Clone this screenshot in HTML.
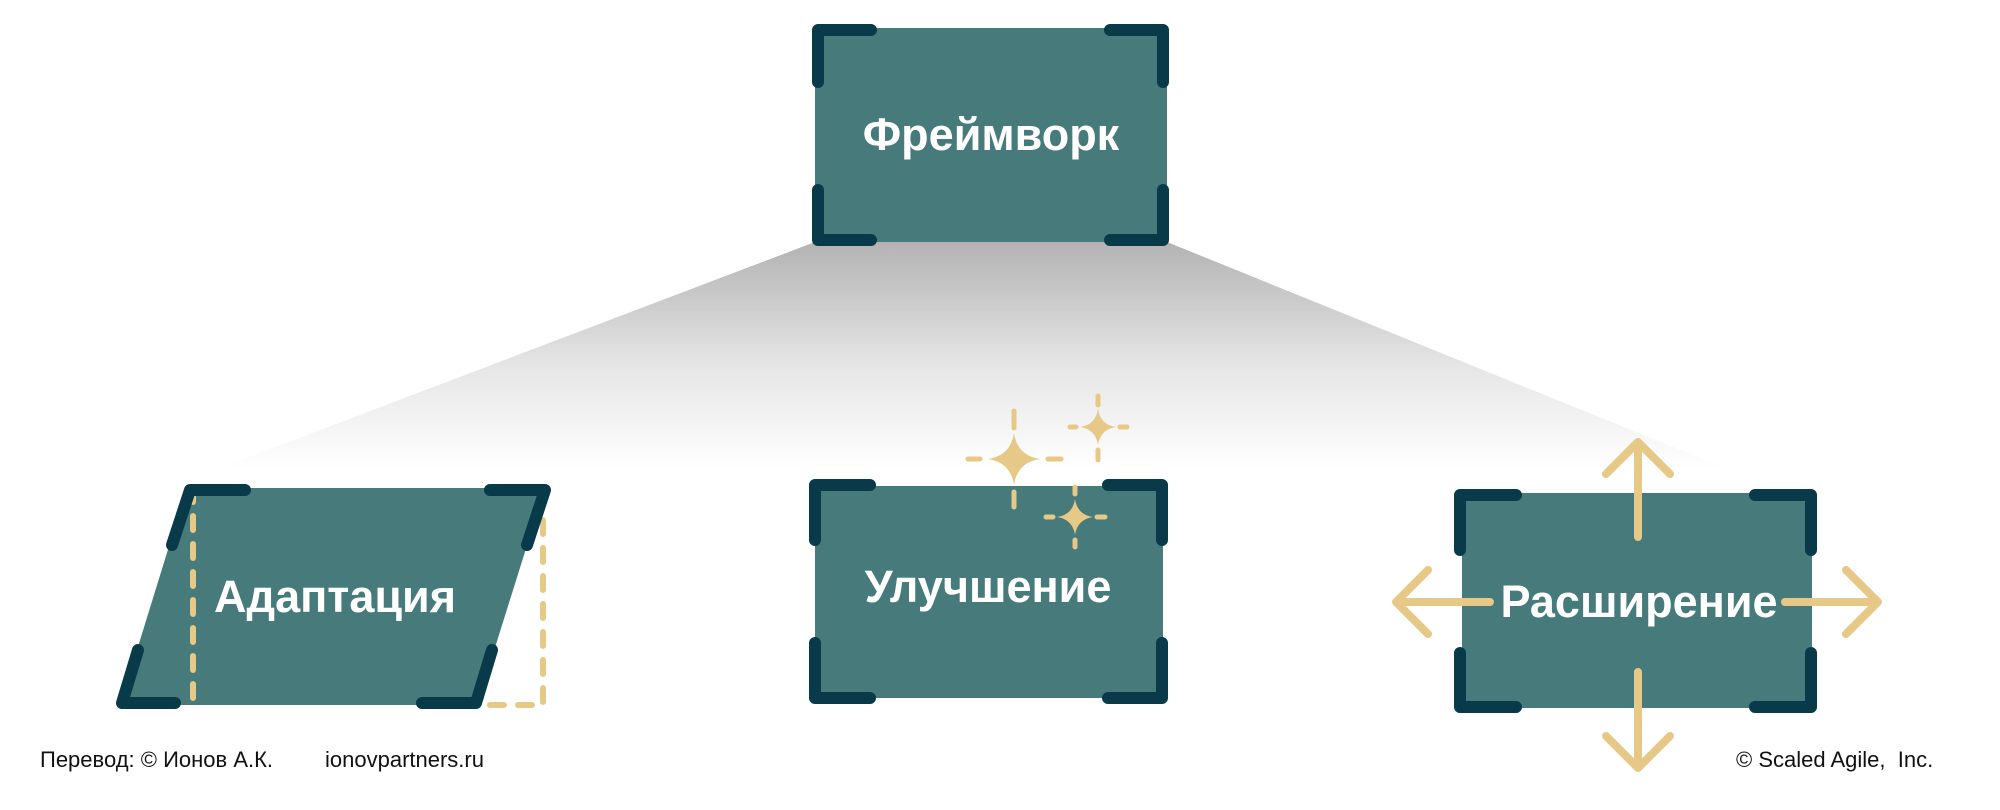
<!DOCTYPE html>
<html><head><meta charset="utf-8"><style>
html,body{margin:0;padding:0;background:#fff;width:2000px;height:810px;overflow:hidden}
svg{display:block}
</style></head><body>
<svg width="2000" height="810" viewBox="0 0 2000 810" xmlns="http://www.w3.org/2000/svg">
<defs>
<linearGradient id="g" x1="0" y1="0" x2="0" y2="1">
<stop offset="0" stop-color="#b3b3b3"/>
<stop offset="0.55" stop-color="#e6e6e6"/>
<stop offset="1" stop-color="#ffffff"/>
</linearGradient>
<path id="st" d="M0,-1 Q0.13,-0.13 1,0 Q0.13,0.13 0,1 Q-0.13,0.13 -1,0 Q-0.13,-0.13 0,-1Z"/>
</defs>
<polygon points="815,242 1167,242 1730,470 215,470" fill="url(#g)"/>

<!-- top box -->
<rect x="815" y="28" width="352" height="214" fill="#467a7b"/>
<g fill="none" stroke="#083a4a" stroke-width="12" stroke-linecap="round" stroke-linejoin="round">
<path d="M871,30 H818 V82"/><path d="M1110,30 H1163 V82"/>
<path d="M818,190 V240 H871"/><path d="M1163,190 V240 H1110"/>
</g>
<text x="991" y="150" text-anchor="middle" font-family="Liberation Sans, sans-serif" font-weight="bold" font-size="45" fill="#fff">Фреймворк</text>

<!-- adaptation -->
<polygon points="187,488 545,488 477,705 120,705" fill="#467a7b"/>
<g fill="none" stroke="#e6c887" stroke-width="6" stroke-linecap="round" stroke-dasharray="14,14">
<path d="M193,488 V705"/><path d="M543,520 V705 H490"/>
</g>
<g fill="none" stroke="#083a4a" stroke-width="12" stroke-linecap="round" stroke-linejoin="round">
<path d="M245,490 H190 L172,545"/><path d="M490,490 H545 L527,545"/>
<path d="M138,650 L122,703 H175"/><path d="M492,650 L476,703 H422"/>
</g>
<text x="335" y="612" text-anchor="middle" font-family="Liberation Sans, sans-serif" font-weight="bold" font-size="45" fill="#fff">Адаптация</text>

<!-- improvement -->
<rect x="815" y="486" width="348" height="212" fill="#467a7b"/>
<g fill="none" stroke="#083a4a" stroke-width="12" stroke-linecap="round" stroke-linejoin="round">
<path d="M870,485 H815 V540"/><path d="M1108,485 H1162 V540"/>
<path d="M815,643 V698 H870"/><path d="M1162,643 V698 H1108"/>
</g>
<text x="988" y="602" text-anchor="middle" font-family="Liberation Sans, sans-serif" font-weight="bold" font-size="45" fill="#fff">Улучшение</text>
<g fill="#e6c887">
<use href="#st" transform="translate(1014,459) scale(26)"/>
<use href="#st" transform="translate(1098,427) scale(18)"/>
<use href="#st" transform="translate(1075,517) scale(18)"/>
</g>
<g fill="none" stroke="#e6c887" stroke-width="5" stroke-linecap="round">
<path d="M1014,411 V428 M1014,492 V507 M968,459 H980 M1048,459 H1061"/>
<path d="M1098,396 V405 M1098,450 V460 M1070,427 H1076 M1120,427 H1127"/>
<path d="M1075,487 V494 M1075,540 V547 M1046,517 H1053 M1097,517 H1105"/>
</g>

<!-- expansion -->
<rect x="1462" y="493" width="350" height="215" fill="#467a7b"/>
<g fill="none" stroke="#083a4a" stroke-width="12" stroke-linecap="round" stroke-linejoin="round">
<path d="M1516,495 H1460 V550"/><path d="M1755,495 H1811 V550"/>
<path d="M1460,653 V707 H1516"/><path d="M1811,653 V707 H1755"/>
</g>
<g fill="none" stroke="#e6c887" stroke-width="8" stroke-linecap="round" stroke-linejoin="round">
<path d="M1638,537 V444 M1606,474 L1638,442 L1670,474"/>
<path d="M1638,672 V766 M1606,736 L1638,768 L1670,736"/>
<path d="M1490,602 H1397 M1428,570 L1396,602 L1428,634"/>
<path d="M1785,602 H1878 M1846,570 L1878,602 L1846,634"/>
</g>
<text x="1639" y="617" text-anchor="middle" font-family="Liberation Sans, sans-serif" font-weight="bold" font-size="45" fill="#fff">Расширение</text>

<text x="40" y="767" font-family="Liberation Sans, sans-serif" font-size="22" fill="#111">Перевод: © Ионов А.К.</text>
<text x="325" y="767" font-family="Liberation Sans, sans-serif" font-size="22" fill="#111">ionovpartners.ru</text>
<text x="1736" y="767" font-family="Liberation Sans, sans-serif" font-size="22" fill="#111" xml:space="preserve">© Scaled Agile,  Inc.</text>
</svg>
</body></html>
